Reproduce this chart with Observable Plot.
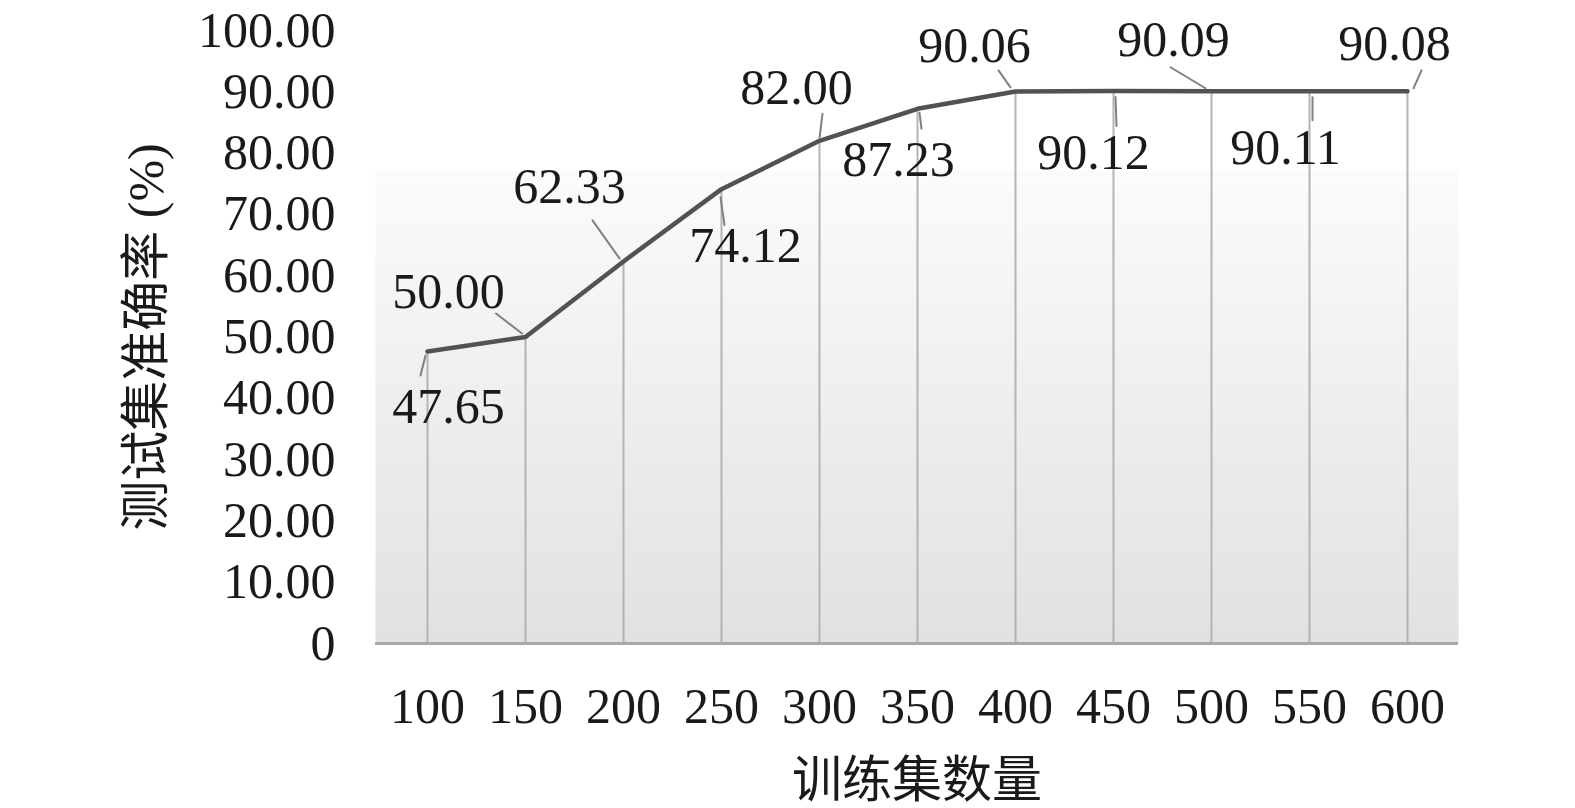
<!DOCTYPE html>
<html>
<head>
<meta charset="utf-8">
<script src="https://cdn.jsdelivr.net/npm/d3@7"></script>
<script src="https://cdn.jsdelivr.net/npm/@observablehq/plot@0.6"></script>
<style>
  html, body { margin: 0; padding: 0; background: #fff; }
  #chart svg { display: block; }
</style>
</head>
<body>
<div id="chart"></div>
<script>
// ---- data ----
const categories = ["100", "150", "200", "250", "300", "350", "400", "450", "500", "550", "600"];
const accuracy = [47.65, 50.00, 62.33, 74.12, 82.00, 87.23, 90.06, 90.12, 90.09, 90.11, 90.08];
const yTicks = [0, 10, 20, 30, 40, 50, 60, 70, 80, 90, 100];
const xTitle = "训练集数量";
const yTitle = "测试集准确率 (%)";

// ---- label placement (pixel offsets from each point) ----
const labelOffsets = [[21, 56], [-77, -45], [-54, -74], [24, 57], [-23, -53], [-19, 51],
                      [-41, -45], [-20, 62], [-38, -51], [-24, 57], [-13, -47]];
const leaderOffsets = [[-2, 4, -7, 24], [-3.5, -3.5, -29.5, -23.5], [-4, -3, -31, -41], [-1, 8, 3, 36],
                       [0, -3, 3, -27], [2, 4, 4, 20], [-5, -4, -17, -21], [2, 6, 3, 35],
                       [-6, -3, -41, -24], [3, 6, 3, 29], [6, -3, 14, -21]];

const data = categories.map((c, i) => ({x: c, y: accuracy[i], label: accuracy[i].toFixed(2)}));
const FONT = "'Liberation Serif', 'Times New Roman', 'Noto Sans CJK SC', serif";
const FS = 50;

const leaderShape = {draw(context, l) { context.moveTo(0, 0); context.lineTo(0, -l); }};

const labelMarks = [];
data.forEach((d, i) => {
  const [sx, sy, ex, ey] = leaderOffsets[i];
  const len = Math.hypot(ex - sx, ey - sy);
  const rot = Math.atan2(ex - sx, -(ey - sy)) * 180 / Math.PI;
  labelMarks.push(Plot.vector([d], {
    x: "x", y: "y", dx: sx, dy: sy, length: len, rotate: rot, anchor: "start",
    shape: leaderShape, stroke: "#808080", strokeWidth: 2
  }));
  labelMarks.push(Plot.text([d], {
    x: "x", y: "y", text: "label", dx: labelOffsets[i][0], dy: labelOffsets[i][1],
    fontSize: FS, fontFamily: FONT, fill: "#1a1a1a", textAnchor: "middle", lineAnchor: "middle"
  }));
});

const svg = Plot.plot({
  width: 1575,
  height: 808,
  marginLeft: 375,
  marginRight: 117,
  marginTop: 30,
  marginBottom: 165,
  style: {fontFamily: FONT, background: "white", color: "#1a1a1a"},
  x: {type: "point", domain: categories, padding: 0.5, label: null},
  y: {domain: [0, 100], label: null},
  marks: [
    Plot.frame({fill: "url(#bgGrad)", stroke: null}),
    Plot.ruleX(data, {x: "x", y1: 0, y2: "y", stroke: "#b4b4b4", strokeWidth: 2}),
    Plot.ruleY([0], {stroke: "#a8a8a8", strokeWidth: 3}),
    Plot.line(data, {x: "x", y: "y", stroke: "#525252", strokeWidth: 4.5, strokeLinejoin: "round"}),
    ...labelMarks,
    Plot.axisY({ticks: yTicks, tickFormat: d => d === 0 ? "0" : d.toFixed(2), tickSize: 0, tickPadding: 40,
                fontSize: FS, fontFamily: FONT, label: null}),
    Plot.axisX({tickSize: 0, tickPadding: 44, fontSize: FS, fontFamily: FONT, label: null}),
    Plot.text([xTitle], {frameAnchor: "bottom", dy: 137, fontSize: FS, fontFamily: FONT, fill: "#1a1a1a",
                         textAnchor: "middle", lineAnchor: "middle"}),
    Plot.text([yTitle], {frameAnchor: "left", dx: -229, rotate: -90, fontSize: FS, fontFamily: FONT, fill: "#1a1a1a",
                         textAnchor: "middle", lineAnchor: "middle"})
  ]
});

const ns = "http://www.w3.org/2000/svg";
const defs = document.createElementNS(ns, "defs");
const grad = document.createElementNS(ns, "linearGradient");
grad.setAttribute("id", "bgGrad");
grad.setAttribute("x1", "0"); grad.setAttribute("y1", "0");
grad.setAttribute("x2", "0"); grad.setAttribute("y2", "1");
[["0", "#ffffff"], ["0.23", "#ffffff"], ["0.23", "#fbfbfb"], ["1", "#e1e1e1"]].forEach(([o, c]) => {
  const s = document.createElementNS(ns, "stop");
  s.setAttribute("offset", o); s.setAttribute("stop-color", c);
  grad.appendChild(s);
});
defs.appendChild(grad);
svg.insertBefore(defs, svg.firstChild);
document.getElementById("chart").appendChild(svg);
</script>
</body>
</html>
